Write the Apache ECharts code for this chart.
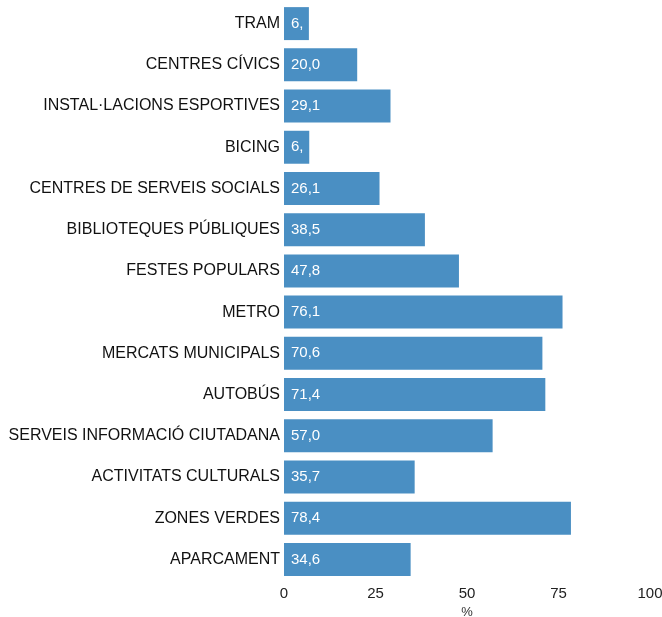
<!DOCTYPE html>
<html><head><meta charset="utf-8">
<script src="https://cdn.jsdelivr.net/npm/echarts@6/dist/echarts.min.js"></script>
<style>html,body{margin:0;padding:0;background:#fff}#c{width:662px;height:617px}</style>
</head><body><div id="c"></div>
<script>
// Categories listed bottom to top
const categories = ['APARCAMENT','ZONES VERDES','ACTIVITATS CULTURALS','SERVEIS INFORMACIÓ CIUTADANA','AUTOBÚS','MERCATS MUNICIPALS','METRO','FESTES POPULARS','BIBLIOTEQUES PÚBLIQUES','CENTRES DE SERVEIS SOCIALS','BICING','INSTAL·LACIONS ESPORTIVES','CENTRES CÍVICS','TRAM'];
const values = [34.6, 78.4, 35.7, 57.0, 71.4, 70.6, 76.1, 47.8, 38.5, 26.1, 6.9, 29.1, 20.0, 6.8];
const xTicks = [0, 25, 50, 75, 100];

const chart = echarts.init(document.getElementById('c'));
const fmt = v => v.toFixed(1).replace('.', ',');
chart.setOption({
  animation: false,
  grid: { left: 284, right: 12, top: 3, bottom: 37, containLabel: false, outerBoundsMode: 'none' },
  xAxis: {
    type: 'value', min: xTicks[0], max: xTicks[xTicks.length - 1], interval: 25,
    name: '%', nameLocation: 'middle', nameGap: 25,
    nameTextStyle: { fontFamily: 'Liberation Sans', fontSize: 13, color: '#333', verticalAlign: 'top' },
    axisLine: { show: false }, axisTick: { show: false }, splitLine: { show: false },
    axisLabel: { fontFamily: 'Liberation Sans', fontSize: 15, color: '#222', margin: 6 }
  },
  yAxis: {
    type: 'category', data: categories,
    axisLine: { show: false }, axisTick: { show: false },
    axisLabel: { fontFamily: 'Liberation Sans', fontSize: 16, color: '#111', margin: 4 }
  },
  series: [{
    type: 'bar',
    data: values.map(v => ({ value: v, label: v < 10 ? { width: 17, overflow: 'truncate', ellipsis: '' } : {} })),
    barCategoryGap: '20%',
    itemStyle: { color: '#4a8fc3' },
    label: {
      show: true, position: 'insideLeft', distance: 7,
      fontFamily: 'Liberation Sans', fontSize: 15, color: '#fff',
      formatter: p => fmt(p.value)
    }
  }]
});
</script></body></html>
